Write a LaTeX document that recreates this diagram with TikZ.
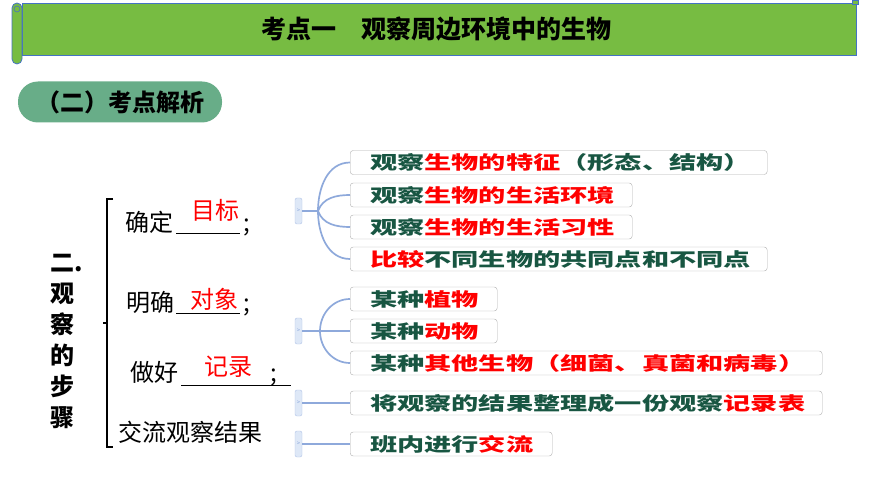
\documentclass[tikz,border=0pt]{standalone}
\usepackage{fontspec}
\setmainfont{Noto Sans CJK SC}
\newfontfamily\leaffont{Noto Sans CJK SC}[FakeStretch=1.47]
\usetikzlibrary{positioning,calc}
\definecolor{bannergreen}{RGB}{119,188,66}
\definecolor{bannerblue}{RGB}{68,114,196}
\definecolor{pillgreen}{RGB}{104,173,136}
\definecolor{leafgreen}{RGB}{24,86,66}
\definecolor{linkblue}{RGB}{142,169,219}
\definecolor{boxgray}{RGB}{175,175,175}
\definecolor{knobfill}{RGB}{222,232,247}

\begin{document}
\begin{tikzpicture}[x=1pt,y=-1pt,
		leaf/.style={draw=boxgray, fill=white, rounded corners=3pt, anchor=west,
			minimum height=24pt, inner xsep=20pt, inner ysep=0pt, text width=#1,
			align=left, text=leafgreen,
			font=\leaffont\bfseries\fontsize{18.5}{20}\selectfont},
		knob/.style={draw=linkblue!70, fill=knobfill, rounded corners=2pt,
			minimum width=7pt, minimum height=26pt, inner sep=0pt,
			font=\fontsize{6}{6}\selectfont, text=linkblue},
		link/.style={draw=linkblue, line width=1.7pt},
		item/.style={anchor=base west, inner sep=0pt, font=\fontsize{24}{26}\selectfont},
		ans/.style={inner sep=0pt, text=red, font=\fontsize{24}{26}\selectfont},
		uline/.style={line width=0.8pt}
		]
		\useasboundingbox (0,0) rectangle (870,489);
		
		% Title banner
		\node[draw=bannerblue, fill=bannergreen, line width=0.8pt, minimum width=834pt,
			minimum height=52pt, inner sep=0pt, font=\bfseries\fontsize{25}{27}\selectfont]
			(banner) at (439,29) {\hspace*{-6pt}考点一\quad 观察周边环境中的生物};
		\draw[draw=bannerblue, fill=bannergreen, line width=0.8pt, rounded corners=5pt]
			(12,3) rectangle (22,64);
		\draw[draw=bannerblue, line width=0.6pt] (17,9) circle (3);
		\draw[draw=bannerblue, fill=bannergreen, line width=0.6pt] (852,0) rectangle (858,4);
		
		% Section pill
		\node[fill=pillgreen, rounded corners=20pt, minimum width=204pt, minimum height=41pt,
			inner sep=0pt, font=\bfseries\fontsize{24}{26}\selectfont]
			(part) at (120,102) {（二）考点解析};
		
		% Vertical heading and bracket
		\node[inner sep=0pt, align=center, font=\bfseries\fontsize{24}{31}\selectfont]
			(steps) at (62,341) {二\rlap{.}\\观\\察\\的\\步\\骤};
		\draw[line width=1.5pt] (113,199) -- (107,199) -- (107,447) -- (113,447);
		\draw[line width=1.5pt] (107,323) -- (103,323);
		
		% Steps with blanks
		\node[item] (s1) at (125,232) {确定};
		\draw[uline] (176,233) -- (240,233);
		\node[ans] (a1) at (215,210) {目标};
		\node[item] (p1) at (243,232) {;};
		
		\node[item] (s2) at (126,311) {明确};
		\draw[uline] (176,313) -- (240,313);
		\node[ans] (a2) at (214,299) {对象};
		\node[item] (p2) at (243,311) {;};
		
		\node[item] (s3) at (130,381) {做好};
		\draw[uline] (181,385) -- (291,385);
		\node[ans] (a3) at (228,367) {记录};
		\node[item] (p3) at (270,381) {;};
		
		\node[item] (s4) at (118,441) {交流观察结果};
		
		% Leaf boxes
		\node[leaf=377pt] (b1) at (350,162.5) {观察\textcolor{red}{生物的特征}（形态、结构）};
		\node[leaf=242pt] (b2) at (350,195) {观察\textcolor{red}{生物的生活环境}};
		\node[leaf=242pt] (b3) at (350,227) {观察\textcolor{red}{生物的生活习性}};
		\node[leaf=377pt] (b4) at (350,259) {\textcolor{red}{比较}不同生物的共同点和不同点};
		\node[leaf=107pt] (b5) at (350,299) {某种\textcolor{red}{植物}};
		\node[leaf=107pt] (b6) at (350,331) {某种\textcolor{red}{动物}};
		\node[leaf=432pt] (b7) at (350,363) {某种\textcolor{red}{其他生物（细菌、真菌和病毒）}};
		\node[leaf=432pt] (b8) at (350,403) {将观察的结果整理成一份观察\textcolor{red}{记录表}};
		\node[leaf=162pt] (b9) at (350,444) {班内进行\textcolor{red}{交流}};
		
		% Expander knobs
		\node[knob] (k1) at (298.5,211) {>};
		\node[knob] (k2) at (298.5,331) {>};
		\node[knob] (k3) at (298.5,403) {>};
		\node[knob] (k4) at (298.5,444) {>};
		\coordinate (j1) at (318,211);
		\coordinate (j2) at (320,331);
		
		% Links
		\draw[link] (k1.east) -- (j1);
		\draw[link] (j1) to[out=90,in=180] (b1.west);
		\draw[link] (j1) to[out=70,in=180] (b2.west);
		\draw[link] (j1) to[out=-70,in=180] (b3.west);
		\draw[link] (j1) to[out=-90,in=180] (b4.west);
		\draw[link] (k2.east) -- (b6.west);
		\draw[link] (j2) to[out=90,in=180] (b5.west);
		\draw[link] (j2) to[out=-90,in=180] (b7.west);
		\draw[link] (k3.east) -- (b8.west);
		\draw[link] (k4.east) -- (b9.west);
	\end{tikzpicture}
\end{document}
